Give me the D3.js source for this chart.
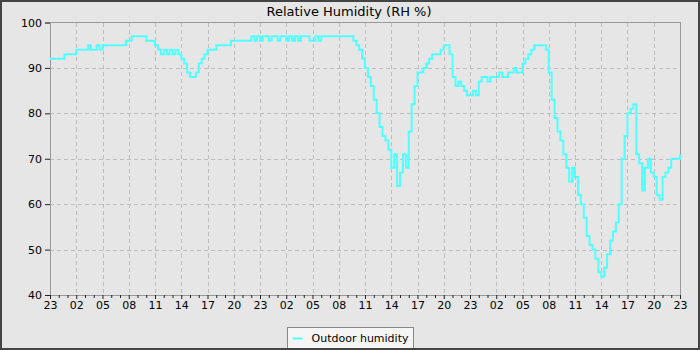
<!DOCTYPE html>
<html>
<head>
<meta charset="utf-8">
<script src="https://cdn.jsdelivr.net/npm/d3@7"></script>
<style>
  body { margin: 0; background: #e6e6e6; }
  svg { display: block; font-family: "DejaVu Sans", sans-serif; }
</style>
</head>
<body>
<svg id="chart"></svg>
<script>
// readings every 20 minutes, starting at 23:00
const day1 = [
  92,92,92, 92,92,93, 93,93,93, 94,94,94, 94,95,94, 94,95,94,
  95,95,95, 95,95,95, 95,95,96, 96,97,97, 97,97,97, 96,96,96,
  95,94,93, 94,93,94, 93,94,93, 92,91,89, 88,88,89, 91,92,93,
  94,94,94, 95,95,95, 95,95,96, 96,96,96, 96,96,96, 97,96,97
];
const day2 = [
  96,97,97, 96,97,97, 96,97,97, 96,97,96, 97,96,97, 97,97,96,
  96,97,96, 97,97,97, 97,97,97, 97,97,97, 97,97,96, 95,94,92,
  90,88,86, 83,80,77, 75,74,72, 68,71,64, 67,71,68, 76,82,86,
  89,89,90, 91,92,93, 93,93,94, 95,95,93, 88,86,87, 86,85,84
];
const day3 = [
  84,85,84, 87,88,88, 87,88,88, 88,89,88, 88,89,89, 90,89,89,
  91,92,93, 94,95,95, 95,95,94, 89,83,79, 76,74,71, 68,65,68,
  66,62,60, 57,53,51, 50,48,45, 44,46,49, 52,54,56, 60,70,75,
  80,81,82, 71,69,63, 68,70,67, 66,62,61, 66,67,68, 70,70,70,
  71
];
const tickLabels = ["23","02","05","08","11","14","17","20",
                    "23","02","05","08","11","14","17","20",
                    "23","02","05","08","11","14","17","20","23"];
const yTicks = [40, 50, 60, 70, 80, 90, 100];

const W = 700, H = 350;
const margin = { top: 22.5, right: 20, bottom: 55, left: 50 };

const humidity = day1.concat(day2, day3).map((v, i) => ({ h: i / 3, v }));

const svg = d3.select("#chart").attr("width", W).attr("height", H);

svg.append("rect")
  .attr("x", 1).attr("y", 1).attr("width", W - 2).attr("height", H - 2)
  .attr("fill", "#e6e6e6").attr("stroke", "#444").attr("stroke-width", 2);

const x = d3.scaleLinear().domain([0, 72]).range([margin.left, W - margin.right]);
const y = d3.scaleLinear().domain([40, 100]).range([H - margin.bottom, margin.top]);

// grid
const grid = svg.append("g")
  .attr("stroke", "#bdbdbd").attr("stroke-dasharray", "4,3").attr("shape-rendering", "crispEdges");
grid.selectAll(".vg").data(d3.range(3, 72, 3)).join("line")
  .attr("x1", d => Math.round(x(d)) + 0.5).attr("x2", d => Math.round(x(d)) + 0.5)
  .attr("y1", y(100)).attr("y2", y(40));
grid.selectAll(".hg").data(yTicks.slice(1, -1)).join("line")
  .attr("x1", x(0)).attr("x2", x(72))
  .attr("y1", d => Math.round(y(d)) + 0.5).attr("y2", d => Math.round(y(d)) + 0.5);

// frame of the plot
svg.append("rect")
  .attr("x", x(0)).attr("y", y(100)).attr("width", x(72) - x(0)).attr("height", y(40) - y(100))
  .attr("fill", "none").attr("stroke", "#999").attr("shape-rendering", "crispEdges");

// axes
const yAxis = svg.append("g")
  .attr("transform", `translate(${x(0)},0)`)
  .call(d3.axisLeft(y).tickValues(yTicks).tickSize(5).tickPadding(3));
const xAxis = svg.append("g")
  .attr("transform", `translate(0,${y(40)})`)
  .call(d3.axisBottom(x).tickValues(d3.range(0, 73, 3))
    .tickFormat((d, i) => tickLabels[i]).tickSize(4).tickPadding(2));
svg.append("g")
  .attr("transform", `translate(0,${y(40)})`)
  .call(d3.axisBottom(x).tickValues(d3.range(0, 73, 1).filter(d => d % 3)).tickFormat("").tickSize(3))
  .call(g => g.select(".domain").remove());

svg.selectAll(".domain").attr("stroke", "#999");
svg.selectAll(".tick line").attr("stroke", "#222");
svg.selectAll(".tick text").attr("fill", "#000").attr("font-size", 11)
  .attr("font-family", "DejaVu Sans, sans-serif");

// line
const line = d3.line()
  .x(d => x(d.h))
  .y(d => y(d.v))
  .curve(d3.curveStepAfter);

svg.append("path")
  .datum(humidity)
  .attr("fill", "none")
  .attr("stroke", "#50ffff")
  .attr("stroke-width", 2)
  .attr("d", line);

// title
svg.append("text")
  .attr("x", 349).attr("y", 16)
  .attr("text-anchor", "middle")
  .attr("font-size", 13)
  .text("Relative Humidity (RH %)");

// legend
const legend = svg.append("g").attr("transform", "translate(287.5,327.5)");
legend.append("rect")
  .attr("width", 126).attr("height", 22)
  .attr("fill", "#f5f5f5").attr("stroke", "#888");
legend.append("line")
  .attr("x1", 5).attr("x2", 15).attr("y1", 11).attr("y2", 11)
  .attr("stroke", "#50ffff").attr("stroke-width", 2);
legend.append("text")
  .attr("x", 24).attr("y", 14.5)
  .attr("font-size", 11)
  .text("Outdoor humidity");

// redraw outer border on top of legend
svg.append("rect")
  .attr("x", 1).attr("y", 1).attr("width", W - 2).attr("height", H - 2)
  .attr("fill", "none").attr("stroke", "#444").attr("stroke-width", 2);
</script>
</body>
</html>
